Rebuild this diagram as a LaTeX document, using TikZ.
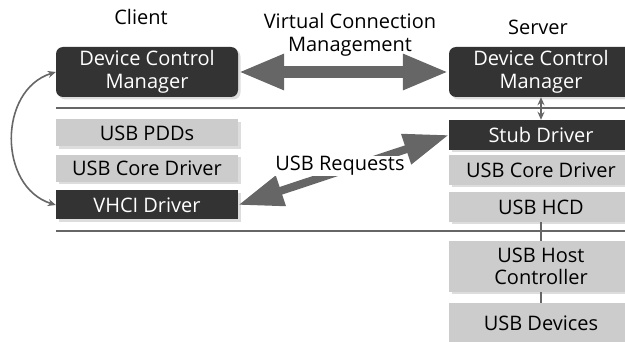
\documentclass[tikz,border=0pt]{standalone}
\usepackage{fontspec}
\setmainfont{Open Sans}
\usetikzlibrary{arrows.meta,shadows}
\definecolor{cDark}{HTML}{333333}
\definecolor{cLight}{HTML}{CCCCCC}
\definecolor{cLink}{HTML}{666666}
\definecolor{cShade}{HTML}{DDDDDD}
\begin{document}
\begin{tikzpicture}[x=1pt,y=-1pt,
  every node/.style={font=\fontsize{20}{22.5}\selectfont, align=center, inner sep=0pt},
  boxshadow/.style={drop shadow={shadow xshift=2.5pt,shadow yshift=-2.5pt,fill=cShade,opacity=1}},
  darkbox/.style={boxshadow, fill=cDark, text=white},
  lightbox/.style={boxshadow, fill=cLight, text=black},
  label/.style={text=black},
  layerline/.style={draw=cLink, line width=2.5pt},
  bigarrow/.style={draw=cLink, line width=12pt,
    {Triangle[width=33pt,length=46pt]}-{Triangle[width=33pt,length=46pt]}},
  reqarrow/.style={draw=cLink, line width=8pt,
    {Triangle[width=30pt,length=45pt]}-{Triangle[width=30pt,length=45pt]}},
  smallarrow/.style={draw=cLink, line width=1.6pt,
    {Stealth[length=8pt,width=7pt]}-{Stealth[length=8pt,width=7pt]}},
  tick/.style={draw=cLink, line width=2.5pt}
]
\clip (0,0) rectangle (625,342);

% headings
\node[label] (client) at (141,17) {Client};
\node[label] (server) at (538,27) {Server};
\node[label] (vcm) at (350,35) {Virtual Connection\\Management};

% layer separators
\coordinate (l1a) at (56,108);  \coordinate (l1b) at (625,108);
\coordinate (l2a) at (56,231);  \coordinate (l2b) at (625,231);
\draw[layerline] (l1a) -- (l1b);
\draw[layerline] (l2a) -- (l2b);

% client stack
\node[darkbox, rounded corners=7pt, minimum width=182pt, minimum height=50pt] (cdcm) at (147,72) {Device Control\\Manager};
\node[lightbox, minimum width=182pt, minimum height=27pt] (cpdd) at (147,133) {USB PDDs};
\node[lightbox, minimum width=182pt, minimum height=27pt] (ccore) at (147,168.5) {USB Core Driver};
\node[darkbox, minimum width=182pt, minimum height=29pt] (vhci) at (147,205) {VHCI Driver};

% server stack
\node[darkbox, rounded corners=7pt, minimum width=184pt, minimum height=50pt] (sdcm) at (541,72) {Device Control\\Manager};
\node[darkbox, minimum width=184pt, minimum height=30pt] (stub) at (541,135) {Stub Driver};
\node[lightbox, minimum width=184pt, minimum height=30pt] (score) at (541,170) {USB Core Driver};
\node[lightbox, minimum width=184pt, minimum height=30pt] (hcd) at (541,207) {USB HCD};
\node[lightbox, minimum width=184pt, minimum height=51pt] (hc) at (541,266.5) {USB Host\\Controller};
\node[lightbox, minimum width=184pt, minimum height=40pt] (dev) at (541,323) {USB Devices};

% links
\draw[bigarrow] (cdcm.east) -- (sdcm.west);
\draw[reqarrow] (vhci.east) -- (stub.west);
\node[label, fill=white, inner xsep=1pt, inner ysep=0pt] (req) at (340,166) {USB Requests};
\draw[smallarrow] (cdcm.west) .. controls (-2,90) and (-2,187) .. (vhci.west);
\draw[smallarrow] (sdcm.south) -- (stub.north);
\draw[tick] (hcd.south) -- (hc.north);
\draw[tick] (hc.south) -- (dev.north);
\end{tikzpicture}
\end{document}
